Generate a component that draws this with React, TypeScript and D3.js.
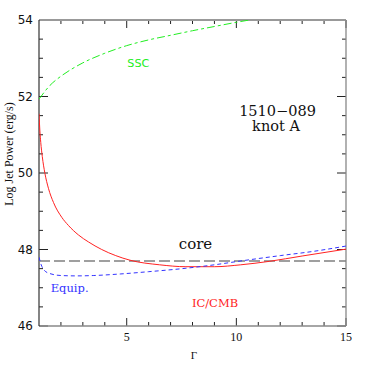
import * as d3 from 'd3';

// values
const sscGamma = [1, 1.5, 2, 2.5, 3, 4, 5, 6, 7, 8, 9, 10, 10.6];
const sscPower = [51.93, 52.29, 52.53, 52.72, 52.88, 53.13, 53.33, 53.48, 53.6, 53.72, 53.83, 53.94, 54.0];

const icGamma = [1, 1.04, 1.08, 1.15, 1.27, 1.43, 1.66, 2.04, 2.34, 2.8, 3.25, 3.86, 4.5, 5.15, 6.5, 7.7, 9, 10.2, 11.5, 13, 15];
const icPower = [51.55, 51.1, 50.8, 50.43, 49.99, 49.6, 49.23, 48.84, 48.63, 48.38, 48.2, 48.0, 47.84, 47.72, 47.6, 47.55, 47.55, 47.6, 47.69, 47.83, 48.01];

const eqGamma = [1, 1.1, 1.25, 1.5, 2, 2.7, 3.5, 4.7, 6, 7.7, 9, 10.2, 12, 13.5, 15];
const eqPower = [47.8, 47.6, 47.45, 47.37, 47.32, 47.31, 47.32, 47.36, 47.42, 47.51, 47.6, 47.7, 47.84, 47.95, 48.09];

const corePower = 47.7;

const xMajor = [5, 10, 15];
const yMajor = [46, 48, 50, 52, 54];

const W = 365;
const H = 365;
const m = { left: 39, right: 19, top: 20, bottom: 39 };

export default function App() {
  const x = d3.scaleLinear().domain([1, 15]).range([m.left, W - m.right]);
  const y = d3.scaleLinear().domain([46, 54]).range([H - m.bottom, m.top]);

  const line = d3
    .line<[number, number]>()
    .x((d) => x(d[0]))
    .y((d) => y(d[1]))
    .curve(d3.curveMonotoneX);

  const ssc = line(sscGamma.map((g, i) => [g, sscPower[i]]))!;
  const ic = line(icGamma.map((g, i) => [g, icPower[i]]))!;
  const eq = line(eqGamma.map((g, i) => [g, eqPower[i]]))!;

  const xMinor = d3.range(2, 15, 1).filter((v) => !xMajor.includes(v));
  const yMinor = d3.range(46.5, 54, 0.5).filter((v) => !yMajor.includes(v));

  const x0 = m.left;
  const x1 = W - m.right;
  const y0 = H - m.bottom;
  const y1 = m.top;

  const sans = 'DejaVu Sans, sans-serif';
  const serif = 'DejaVu Serif, serif';
  const times = 'Liberation Serif, serif';

  return (
    <svg
      width={W}
      height={H}
      style={{ position: 'absolute', left: 0, top: 0, background: '#fff' }}
    >
      <defs>
        <clipPath id='plot'>
          <rect x={x0} y={y1} width={x1 - x0} height={y0 - y1} />
        </clipPath>
      </defs>

      {/* ticks */}
      <g stroke='#222' strokeWidth={1}>
        {xMinor.map((v) => (
          <g key={'xm' + v}>
            <line x1={x(v)} x2={x(v)} y1={y0} y2={y0 - 4} />
            <line x1={x(v)} x2={x(v)} y1={y1} y2={y1 + 4} />
          </g>
        ))}
        {xMajor.map((v) => (
          <g key={'xM' + v}>
            <line x1={x(v)} x2={x(v)} y1={y0} y2={y0 - 8} />
            <line x1={x(v)} x2={x(v)} y1={y1} y2={y1 + 8} />
          </g>
        ))}
        {yMinor.map((v) => (
          <g key={'ym' + v}>
            <line x1={x0} x2={x0 + 4} y1={y(v)} y2={y(v)} />
            <line x1={x1} x2={x1 - 4} y1={y(v)} y2={y(v)} />
          </g>
        ))}
        {yMajor.map((v) => (
          <g key={'yM' + v}>
            <line x1={x0} x2={x0 + 9} y1={y(v)} y2={y(v)} />
            <line x1={x1} x2={x1 - 9} y1={y(v)} y2={y(v)} />
          </g>
        ))}
      </g>

      {/* frame */}
      <line x1={x0} x2={x1} y1={y1} y2={y1} stroke='#999' strokeWidth={2} />
      <line x1={x1} x2={x1} y1={y1} y2={y0} stroke='#888' strokeWidth={1.3} />
      <line x1={x0} x2={x1} y1={y0} y2={y0} stroke='#888' strokeWidth={1.3} />
      <line x1={x0} x2={x0} y1={y1} y2={y0} stroke='#333' strokeWidth={1.2} />

      {/* tick labels */}
      {yMajor.map((v) => (
        <text
          key={'yl' + v}
          x={33}
          y={y(v)}
          dy='0.36em'
          textAnchor='end'
          fontFamily={sans}
          fontSize={12}
          fill='#111'
        >
          {v}
        </text>
      ))}
      {xMajor.map((v) => (
        <text
          key={'xl' + v}
          x={x(v)}
          y={341}
          textAnchor='middle'
          fontFamily={times}
          fontSize={12}
          fill='#111'
        >
          {v}
        </text>
      ))}

      {/* axis titles */}
      <text x={194} y={358.5} textAnchor='middle' fontFamily={times} fontSize={11} fill='#111'>
        Γ
      </text>
      <text
        transform='translate(13,154) rotate(-90)'
        textAnchor='middle'
        fontFamily={times}
        fontSize={12}
        fill='#111'
      >
        Log Jet Power (erg/s)
      </text>

      {/* curves */}
      <g clipPath='url(#plot)' fill='none'>
        <line
          x1={x0}
          x2={x1}
          y1={y(corePower)}
          y2={y(corePower)}
          stroke='#808080'
          strokeWidth={1.5}
          strokeDasharray='11,4'
        />
        <path d={ssc} stroke='#22ee22' strokeWidth={1} strokeDasharray='8,3,3,3' />
        <path d={ic} stroke='#ff2222' strokeWidth={1} />
        <path d={eq} stroke='#3333ff' strokeWidth={1} strokeDasharray='4,3' />
      </g>

      {/* annotations */}
      <text x={138.3} y={66.5} textAnchor='middle' fontFamily={sans} fontSize={11.2} fill='#22ee22'>
        SSC
      </text>
      <text x={277.5} y={116} textAnchor='middle' fontFamily={serif} fontSize={14.5} fill='#111'>
        1510−089
      </text>
      <text x={276} y={131} textAnchor='middle' fontFamily={serif} fontSize={14.5} fill='#111'>
        knot A
      </text>
      <text x={195.5} y={249.3} textAnchor='middle' fontFamily={serif} fontSize={15} fill='#111'>
        core
      </text>
      <text x={215} y={306.7} textAnchor='middle' fontFamily={serif} fontSize={11.5} fill='#ff2222'>
        IC/CMB
      </text>
      <text x={50.7} y={291.7} fontFamily={serif} fontSize={11.5} fill='#3333ff'>
        Equip.
      </text>
    </svg>
  );
}
